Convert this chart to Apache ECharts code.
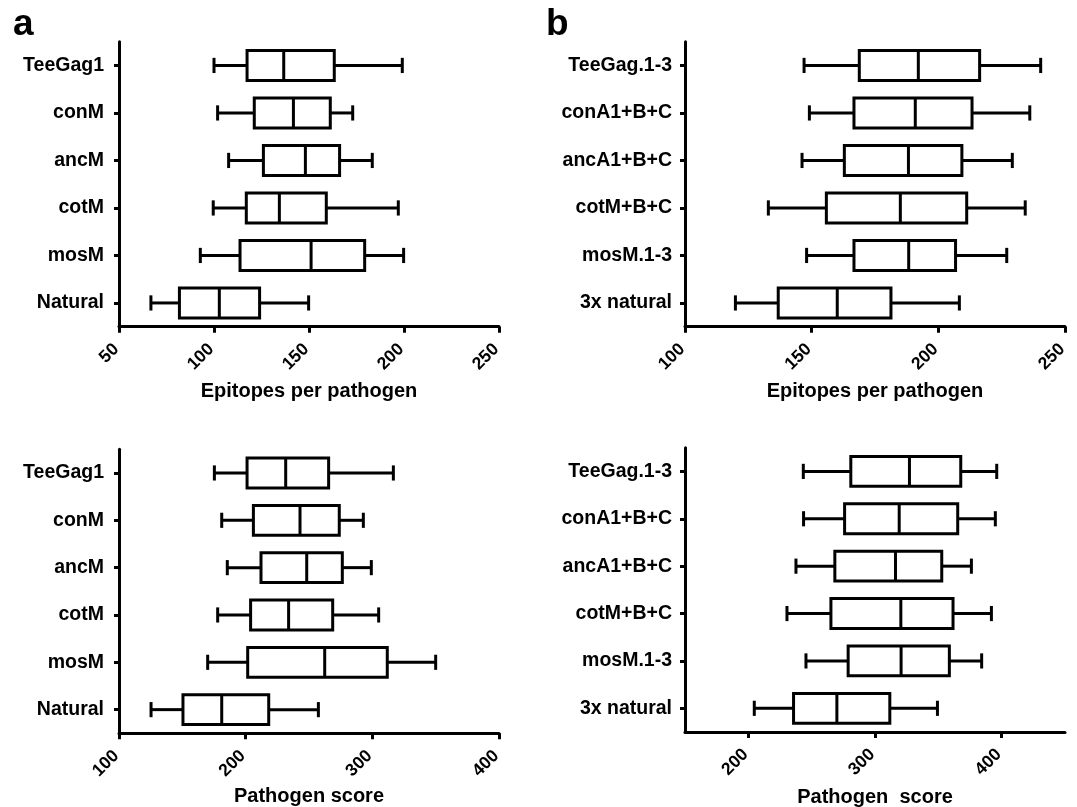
<!DOCTYPE html>
<html>
<head>
<meta charset="utf-8">
<script src="https://cdn.jsdelivr.net/npm/echarts@6/dist/echarts.min.js"></script>
<style>
html,body{margin:0;padding:0;background:#fff;}
#chart{width:1077px;height:807px;}
</style>
</head>
<body>
<div id="chart"></div>
<script>
// Categories (top to bottom)
const catsA = ['TeeGag1', 'conM', 'ancM', 'cotM', 'mosM', 'Natural'];
const catsB = ['TeeGag.1-3', 'conA1+B+C', 'ancA1+B+C', 'cotM+B+C', 'mosM.1-3', '3x natural'];

// Box stats: [min, Q1, median, Q3, max]
const epitopesA = [
  [100, 117.4, 136.7, 163.3, 199.1],
  [101.9, 121.2, 141.8, 161.2, 173.0],
  [107.7, 126.0, 148.1, 166.1, 183.3],
  [99.6, 117.0, 134.4, 159.1, 197.0],
  [92.8, 113.7, 151.1, 179.3, 199.8],
  [66.8, 81.8, 102.8, 124.0, 149.8]
];
const epitopesB = [
  [147.0, 168.8, 192.1, 216.3, 240.4],
  [149.1, 166.7, 190.9, 213.3, 236.1],
  [146.2, 162.9, 188.2, 209.3, 229.2],
  [132.9, 155.8, 185.0, 211.2, 234.3],
  [148.0, 166.7, 188.3, 206.8, 227.0],
  [119.9, 136.8, 160.1, 181.3, 208.3]
];
const scoreA = [
  [175.3, 201.1, 231.6, 265.5, 316.6],
  [181.1, 206.1, 242.9, 273.9, 292.9],
  [185.5, 212.1, 248.2, 276.3, 299.2],
  [177.9, 203.9, 233.9, 268.7, 305.0],
  [170.0, 201.6, 262.4, 311.8, 350.0],
  [125.3, 150.5, 181.1, 218.2, 257.4]
];
const scoreB = [
  [243.4, 280.9, 327.2, 367.7, 396.1],
  [243.6, 276.0, 319.1, 365.3, 395.0],
  [237.6, 268.3, 316.2, 352.7, 376.1],
  [230.5, 265.2, 320.4, 361.6, 391.9],
  [245.5, 278.8, 320.6, 358.7, 384.2],
  [204.7, 235.7, 269.9, 311.7, 349.3]
];

// Axis tick labels
const ticksEpiA = [50, 100, 150, 200, 250];
const ticksEpiB = [100, 150, 200, 250];
const ticksScoreA = [100, 200, 300, 400];
const ticksScoreB = [200, 300, 400];

const FONT = 'Liberation Sans, Arial, Helvetica, sans-serif';
const BLACK = '#000';

function renderBox(params, api) {
  const c = api.value(0);
  const lo = api.coord([api.value(1), c]);
  const q1 = api.coord([api.value(2), c]);
  const md = api.coord([api.value(3), c]);
  const q3 = api.coord([api.value(4), c]);
  const hi = api.coord([api.value(5), c]);
  const band = api.size([0, 1])[1];
  const bh = band * 0.315;
  const ch = band * 0.16;
  const y = lo[1];
  const st = { stroke: BLACK, lineWidth: 3, fill: null };
  return {
    type: 'group',
    children: [
      { type: 'line', shape: { x1: lo[0], y1: y, x2: q1[0], y2: y }, style: st },
      { type: 'line', shape: { x1: q3[0], y1: y, x2: hi[0], y2: y }, style: st },
      { type: 'line', shape: { x1: lo[0], y1: y - ch, x2: lo[0], y2: y + ch }, style: st },
      { type: 'line', shape: { x1: hi[0], y1: y - ch, x2: hi[0], y2: y + ch }, style: st },
      { type: 'rect', shape: { x: q1[0], y: y - bh, width: q3[0] - q1[0], height: 2 * bh },
        style: { stroke: BLACK, lineWidth: 3, fill: '#fff' } },
      { type: 'line', shape: { x1: md[0], y1: y - bh, x2: md[0], y2: y + bh }, style: st }
    ]
  };
}

function valueAxis(idx, min, max, interval, name, ticks, nameGap) {
  return {
    type: 'value', gridIndex: idx, min: min, max: max, interval: interval,
    name: name, nameLocation: 'middle', nameGap: nameGap,
    nameTextStyle: { fontFamily: FONT, fontWeight: 'bold', fontSize: 20, color: BLACK },
    axisLine: { show: true, onZero: false, lineStyle: { color: BLACK, width: 3 } },
    axisTick: { show: true, length: 6, customValues: ticks, lineStyle: { color: BLACK, width: 3 } },
    axisLabel: { rotate: 45, margin: 17, padding: [0, 4, 0, 0], customValues: ticks,
      fontFamily: FONT, fontWeight: 'bold', fontSize: 17.5, color: BLACK },
    splitLine: { show: false }
  };
}

function catAxis(idx, cats, margin) {
  return {
    type: 'category', gridIndex: idx, data: cats, inverse: true, boundaryGap: true,
    axisLine: { show: true, onZero: false, lineStyle: { color: BLACK, width: 3 } },
    axisTick: { show: true, alignWithLabel: true, length: 5, lineStyle: { color: BLACK, width: 3 } },
    axisLabel: { margin: margin, fontFamily: FONT, fontWeight: 'bold', fontSize: 19.5, color: BLACK },
    splitLine: { show: false }
  };
}

function boxSeries(idx, values) {
  return {
    type: 'custom', xAxisIndex: idx, yAxisIndex: idx,
    renderItem: renderBox,
    encode: { x: [1, 2, 3, 4, 5], y: 0 },
    data: values.map((v, i) => [i].concat(v)),
    silent: true, animation: false
  };
}

const chart = echarts.init(document.getElementById('chart'), null, { renderer: 'canvas' });
const gridBase = { containLabel: false, outerBoundsMode: 'none' };
chart.setOption({
  backgroundColor: '#fff',
  animation: false,
  grid: [
    Object.assign({ left: 119, top: 41.7, width: 380, height: 285 }, gridBase),
    Object.assign({ left: 685, top: 41.7, width: 380, height: 285 }, gridBase),
    Object.assign({ left: 119, top: 449.3, width: 380, height: 284 }, gridBase),
    Object.assign({ left: 685, top: 447.7, width: 380, height: 284.3 }, gridBase)
  ],
  xAxis: [
    valueAxis(0, 50, 250, 50, 'Epitopes per pathogen', ticksEpiA, 55),
    valueAxis(1, 100, 250, 50, 'Epitopes per pathogen', ticksEpiB, 55),
    valueAxis(2, 100, 400, 100, 'Pathogen score', ticksScoreA, 53),
    valueAxis(3, 150, 450, 50, 'Pathogen  score', ticksScoreB, 55)
  ],
  yAxis: [
    catAxis(0, catsA, 15),
    catAxis(1, catsB, 13),
    catAxis(2, catsA, 15),
    catAxis(3, catsB, 13)
  ],
  series: [
    boxSeries(0, epitopesA),
    boxSeries(1, epitopesB),
    boxSeries(2, scoreA),
    boxSeries(3, scoreB)
  ],
  graphic: [
    { type: 'text', left: 13, top: 6, style: { text: 'a', fontFamily: FONT, fontWeight: 'bold', fontSize: 37, fill: BLACK } },
    { type: 'text', left: 546, top: 6, style: { text: 'b', fontFamily: FONT, fontWeight: 'bold', fontSize: 37, fill: BLACK } }
  ]
});
</script>
</body>
</html>
